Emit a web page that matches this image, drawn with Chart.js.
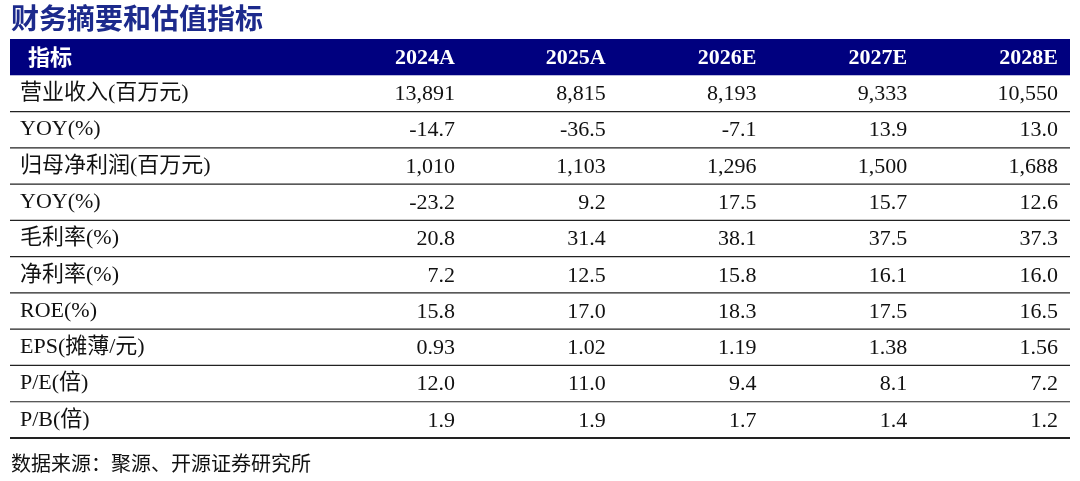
<!DOCTYPE html>
<html>
<head>
<meta charset="utf-8">
<script src="https://cdn.jsdelivr.net/npm/chart.js@4/dist/chart.umd.min.js"></script>
<style>
  html, body { margin: 0; padding: 0; background: #fff; }
  #wrap { width: 1080px; height: 481px; }
</style>
</head>
<body>
<div id="wrap"><canvas id="tbl"></canvas></div>
<script>
// Financial summary table, drawn on Chart.js scales
const title = '财务摘要和估值指标';
const source = '数据来源：聚源、开源证券研究所';
const headerLabel = '指标';
const years = ['2024A', '2025A', '2026E', '2027E', '2028E'];
const rowLabels = ['营业收入(百万元)', 'YOY(%)', '归母净利润(百万元)', 'YOY(%)', '毛利率(%)',
  '净利率(%)', 'ROE(%)', 'EPS(摊薄/元)', 'P/E(倍)', 'P/B(倍)'];
const rowValues = [
  ['13,891', '8,815', '8,193', '9,333', '10,550'],
  ['-14.7', '-36.5', '-7.1', '13.9', '13.0'],
  ['1,010', '1,103', '1,296', '1,500', '1,688'],
  ['-23.2', '9.2', '17.5', '15.7', '12.6'],
  ['20.8', '31.4', '38.1', '37.5', '37.3'],
  ['7.2', '12.5', '15.8', '16.1', '16.0'],
  ['15.8', '17.0', '18.3', '17.5', '16.5'],
  ['0.93', '1.02', '1.19', '1.38', '1.56'],
  ['12.0', '11.0', '9.4', '8.1', '7.2'],
  ['1.9', '1.9', '1.7', '1.4', '1.2']
];

const yLabels = ['header'].concat(rowLabels.map((r, i) => 'r' + i));
const cjk = '"Noto Sans CJK SC", "Noto Sans CJK JP", sans-serif';
const serifNum = '"Liberation Serif", "Times New Roman", serif';
const mixed = '"Liberation Serif", "Noto Sans CJK SC", serif';

const tablePlugin = {
  id: 'tablePlugin',
  afterDraw(chart) {
    const ctx = chart.ctx;
    const x = chart.scales.x;
    const y = chart.scales.y;
    const area = chart.chartArea;
    const band = (y.bottom - y.top) / yLabels.length;
    ctx.save();

    // title
    ctx.fillStyle = '#1c2a8c';
    ctx.font = 'bold 28px ' + cjk;
    ctx.textBaseline = 'middle';
    ctx.textAlign = 'left';
    ctx.fillText(title, 11, 18);

    // header bar
    ctx.fillStyle = '#00007f';
    ctx.fillRect(area.left, y.top, area.right - area.left, band);
    const hy = y.getPixelForValue(0);
    ctx.fillStyle = '#fff';
    ctx.font = 'bold 22px ' + cjk;
    ctx.fillText(headerLabel, area.left + 18, hy);
    ctx.textAlign = 'right';
    ctx.font = 'bold 22px ' + serifNum;
    years.forEach((yr, j) => ctx.fillText(yr, x.getPixelForValue(j + 1), hy + 1));

    // rows
    rowLabels.forEach((lab, i) => {
      const cy = y.getPixelForValue(i + 1);
      ctx.fillStyle = '#111';
      ctx.textAlign = 'left';
      ctx.font = '22px ' + mixed;
      ctx.fillText(lab, area.left + 10, cy);
      ctx.textAlign = 'right';
      ctx.font = '22px ' + serifNum;
      rowValues[i].forEach((v, j) => ctx.fillText(v, x.getPixelForValue(j + 1), cy + 1));
      ctx.strokeStyle = '#222';
      ctx.lineWidth = i === rowLabels.length - 1 ? 2 : 1.2;
      ctx.beginPath();
      ctx.moveTo(area.left, cy + band / 2);
      ctx.lineTo(area.right, cy + band / 2);
      ctx.stroke();
    });

    // source
    ctx.fillStyle = '#111';
    ctx.textAlign = 'left';
    ctx.font = '20px ' + cjk;
    ctx.fillText(source, 11, 463);
    ctx.restore();
  }
};

const points = [];
rowValues.forEach((row, i) => row.forEach((v, j) => points.push({ x: j + 1, y: yLabels[i + 1] })));

new Chart(document.getElementById('tbl'), {
  type: 'scatter',
  data: { datasets: [{ data: points, pointRadius: 0, pointHoverRadius: 0 }] },
  options: {
    responsive: true,
    maintainAspectRatio: false,
    animation: false,
    events: [],
    layout: { padding: { left: 10, right: 10, top: 39, bottom: 43 } },
    plugins: { legend: { display: false }, tooltip: { enabled: false } },
    scales: {
      x: { type: 'linear', min: -1.952, max: 5.08, display: false },
      y: { type: 'category', labels: yLabels, offset: true, display: false }
    }
  },
  plugins: [tablePlugin]
});
</script>
</body>
</html>
